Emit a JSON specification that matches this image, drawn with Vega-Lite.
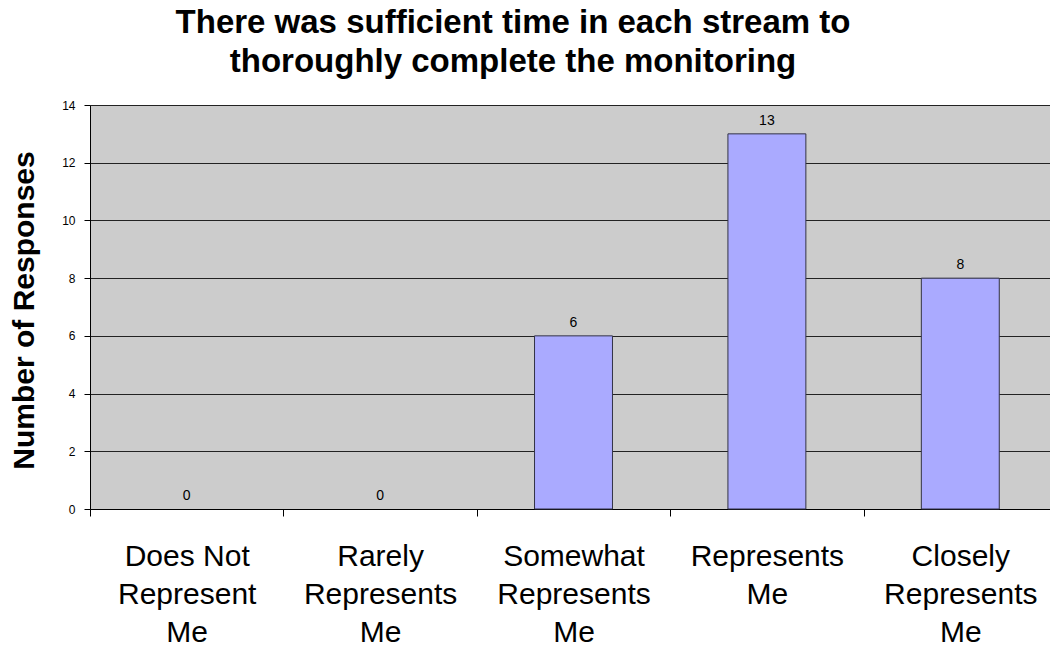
{
  "$schema": "https://vega.github.io/schema/vega-lite/v6.json",
  "autosize": {"type": "none"},
  "width": 960,
  "height": 404,
  "padding": {"left": 90, "top": 105, "right": 0, "bottom": 137},
  "background": "white",
  "config": {
    "font": "Liberation Sans",
    "view": {"stroke": null, "fill": "#CCCCCC"}
  },
  "title": {
    "text": ["There was sufficient time in each stream to", "thoroughly complete the monitoring"],
    "fontSize": 33,
    "fontWeight": "bold",
    "font": "Liberation Sans",
    "color": "#000000",
    "lineHeight": 39,
    "anchor": "middle",
    "dx": -57,
    "offset": 20
  },
  "data": {
    "values": [
      {"category": "Does Not|Represent|Me", "responses": 0},
      {"category": "Rarely|Represents|Me", "responses": 0},
      {"category": "Somewhat|Represents|Me", "responses": 6},
      {"category": "Represents|Me", "responses": 13},
      {"category": "Closely|Represents|Me", "responses": 8}
    ]
  },
  "encoding": {
    "x": {
      "field": "category",
      "type": "nominal",
      "sort": ["Does Not|Represent|Me", "Rarely|Represents|Me", "Somewhat|Represents|Me", "Represents|Me", "Closely|Represents|Me"],
      "scale": {"range": [0, 967], "paddingInner": 0, "paddingOuter": 0},
      "axis": {
        "title": null,
        "labelAngle": 0,
        "labelExpr": "split(datum.label, '|')",
        "labelFontSize": 30,
        "labelLineHeight": 38,
        "labelColor": "#000000",
        "labelPadding": 49,
        "labelBaseline": "alphabetic",
        "tickBand": "extent",
        "tickSize": 7,
        "tickColor": "#000000",
        "domainColor": "#000000",
        "labelFont": "Liberation Sans"
      }
    },
    "y": {
      "field": "responses",
      "type": "quantitative",
      "scale": {"domain": [0, 14], "nice": false},
      "axis": {
        "title": "Number of Responses",
        "titleFontSize": 30,
        "titleFontWeight": "bold",
        "titleColor": "#000000",
        "titleFont": "Liberation Sans",
        "titleX": -57,
        "titleY": 205,
        "titleBaseline": "alphabetic",
        "titleAlign": "center",
        "titleAngle": -90,
        "values": [0, 2, 4, 6, 8, 10, 12, 14],
        "labelFontSize": 12,
        "labelColor": "#000000",
        "labelFont": "Liberation Sans",
        "labelPadding": 9,
        "tickSize": 6,
        "tickColor": "#000000",
        "domainColor": "#000000",
        "gridColor": "#222222",
        "gridOpacity": 1,
        "gridWidth": 1
      }
    }
  },
  "layer": [
    {
      "transform": [{"filter": "datum.responses > 0"}],
      "mark": {"type": "bar", "width": {"band": 0.403}, "fill": "#AAAAFF", "stroke": "#333344", "strokeWidth": 1}
    },
    {
      "mark": {"type": "text", "baseline": "alphabetic", "dy": -9, "fontSize": 14, "color": "#000000", "font": "Liberation Sans"},
      "encoding": {"text": {"field": "responses", "type": "quantitative"}}
    }
  ]
}
